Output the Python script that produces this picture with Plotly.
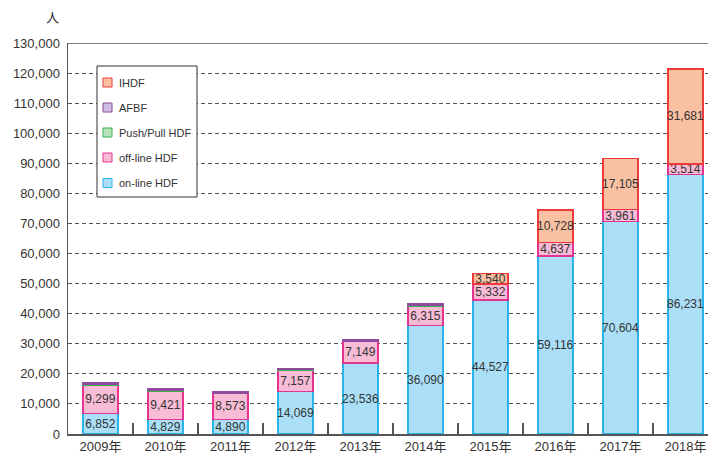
import plotly.graph_objects as go

years = ["2009年", "2010年", "2011年", "2012年", "2013年", "2014年", "2015年", "2016年", "2017年", "2018年"]
online = [6852, 4829, 4890, 14069, 23536, 36090, 44527, 59116, 70604, 86231]
offline = [9299, 9421, 8573, 7157, 7149, 6315, 5332, 4637, 3961, 3514]
pushpull = [500, 450, 150, 150, 150, 400, None, None, None, None]
afbf = [350, 300, 350, 400, 450, 400, None, None, None, None]
ihdf = [None, None, None, None, None, None, 3540, 10728, 17105, 31681]

FONT = "Liberation Sans, Arial, Noto Sans CJK JP, sans-serif"

W, H = 708, 456
ML, MR, MT, MB = 68, 0, 43, 22
PW, PH = W - ML - MR, H - MT - MB


def px(xp):  # page x pixel -> paper x
    return (xp - ML) / PW


def py(yp):  # page y pixel -> paper y
    return (H - MB - yp) / PH


def fmt(vals):
    return ["" if v is None else f"{v:,}" for v in vals]


series = [
    ("on-line HDF", online, "#aadff7", "#2ab4ea", True),
    ("off-line HDF", offline, "#f8bcd6", "#e6348e", True),
    ("Push/Pull HDF", pushpull, "#b8e2b8", "#3cb44b", False),
    ("AFBF", afbf, "#cdbde0", "#8e4a9e", False),
    ("IHDF", ihdf, "#f9c0a2", "#ee3a3a", True),
]

fig = go.Figure()
for name, vals, fill, line, show_text in series:
    fig.add_trace(go.Bar(
        x=years, y=vals, name=name,
        marker=dict(color=fill, line=dict(color=line, width=1.5)),
        text=fmt(vals) if show_text else None,
        textposition="inside" if show_text else "none",
        insidetextanchor="middle", textangle=0,
        textfont=dict(size=12, color="#333333", family=FONT),
        hoverinfo="skip", showlegend=False,
    ))

# top frame line
fig.add_shape(type="line", xref="paper", yref="y", x0=0, x1=1, y0=130000, y1=130000,
              line=dict(color="#555555", width=1.5))

# legend box (drawn manually to match the original layout)
fig.add_shape(type="rect", xref="paper", yref="paper",
              x0=px(97), x1=px(197), y0=py(197), y1=py(66),
              line=dict(color="#333333", width=1), fillcolor="white", layer="above")
legend_y = [82.5, 107.5, 132.5, 157.5, 183]
for (name, vals, fill, line, _), yc in zip(reversed(series), legend_y):
    fig.add_shape(type="rect", xref="paper", yref="paper",
                  x0=px(103), x1=px(112), y0=py(yc + 4.5), y1=py(yc - 4.5),
                  line=dict(color=line, width=1), fillcolor=fill, layer="above")
    fig.add_annotation(text=name, xref="paper", yref="paper", x=px(116.5), y=py(yc),
                       xanchor="left", yanchor="middle", showarrow=False,
                       font=dict(size=11, color="#333333", family=FONT))

fig.add_annotation(text="人", xref="paper", yref="paper", x=px(52), y=py(18),
                   xanchor="center", yanchor="middle", showarrow=False,
                   font=dict(size=13, color="#333333", family=FONT))

fig.update_layout(
    width=W, height=H,
    margin=dict(l=ML, r=MR, t=MT, b=MB, autoexpand=False),
    barmode="stack", bargap=0.46,
    plot_bgcolor="white", paper_bgcolor="white",
    font=dict(family=FONT, color="#333333", size=13),
    uniformtext=dict(minsize=12, mode="show"),
    showlegend=False,
    xaxis=dict(
        range=[-0.5, 9.346], showgrid=False,
        showline=True, linecolor="#555555", linewidth=1.5,
        ticks="inside", ticklen=11, tickcolor="#555555", tickwidth=1.5,
        tickson="boundaries",
        tickfont=dict(size=13, color="#333333", family=FONT),
        automargin=False, fixedrange=True,
    ),
    yaxis=dict(
        range=[0, 130000], dtick=10000, tickformat=",d",
        showgrid=True, gridcolor="#555555", gridwidth=1, griddash="4px,3px",
        showline=True, linecolor="#555555", linewidth=1.5,
        zeroline=False, ticklabelstandoff=4,
        ticks="", tickfont=dict(size=13, color="#333333", family=FONT),
        automargin=False, fixedrange=True,
    ),
)

fig.write_html(
    "out.html",
    config={"displayModeBar": False, "staticPlot": True},
    post_script="document.body.style.margin='0';document.body.style.overflow='hidden';",
)
